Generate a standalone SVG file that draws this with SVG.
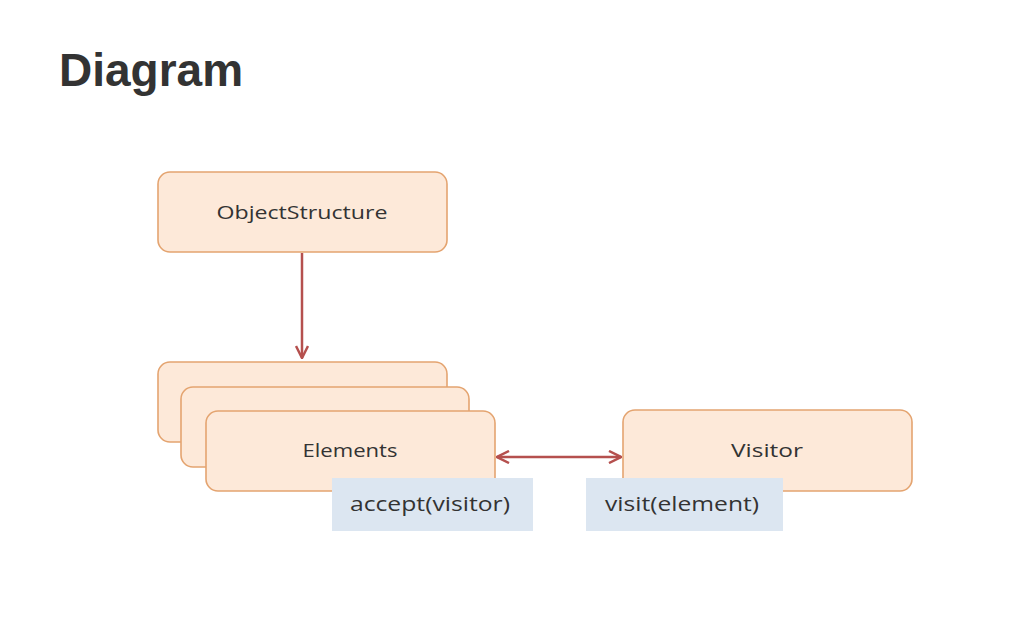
<svg xmlns="http://www.w3.org/2000/svg" width="1026" height="618" viewBox="0 0 1026 618">
<style>
.box{fill:#fde9d9;stroke:#e4a470;stroke-width:1.6}
.lbl{font-family:"Open Sans","Liberation Sans",sans-serif;font-size:18px;fill:#333;text-anchor:middle}
.op{fill:#dce6f1}
.optx{font-family:"Open Sans","Liberation Sans",sans-serif;font-size:20px;fill:#333;text-anchor:middle}
.con{stroke:#b5504e;stroke-width:2.5;fill:none}
</style>
<defs>
<marker id="ah" viewBox="0 0 14 14" refX="13" refY="7" markerWidth="14" markerHeight="14" markerUnits="userSpaceOnUse" orient="auto-start-reverse">
<path d="M1,1 L13,7 L1,13" fill="none" stroke="#b5504e" stroke-width="2.5"/>
</marker>
</defs>
<rect width="1026" height="618" fill="#fff"/>
<text x="59" y="86" font-family="Liberation Sans,Arial,sans-serif" font-size="46" font-weight="bold" fill="#333">Diagram</text>
<g id="connectors">
<line class="con" x1="302" y1="253" x2="302" y2="358" marker-end="url(#ah)"/>
<line class="con" x1="497" y1="457" x2="621" y2="457" marker-start="url(#ah)" marker-end="url(#ah)"/>
</g>
<g id="objectstructure">
<rect class="box" x="158" y="172" width="289" height="80" rx="12"/>
<text class="lbl" x="302" y="219" textLength="171" lengthAdjust="spacingAndGlyphs">ObjectStructure</text>
</g>
<g id="elements">
<rect class="box" x="158" y="362" width="289" height="80" rx="12"/>
<rect class="box" x="181" y="387" width="288" height="80" rx="12"/>
<rect class="box" x="206" y="411" width="289" height="80" rx="12"/>
<text class="lbl" x="350" y="457" textLength="95" lengthAdjust="spacingAndGlyphs">Elements</text>
</g>
<g id="visitor">
<rect class="box" x="623" y="410" width="289" height="81" rx="12"/>
<text class="lbl" x="767" y="457" textLength="72" lengthAdjust="spacingAndGlyphs">Visitor</text>
</g>
<g id="accept">
<rect class="op" x="332" y="478" width="201" height="53"/>
<text class="optx" x="430" y="511" textLength="160" lengthAdjust="spacingAndGlyphs">accept(visitor)</text>
</g>
<g id="visit">
<rect class="op" x="586" y="478" width="197" height="53"/>
<text class="optx" x="682" y="511" textLength="154" lengthAdjust="spacingAndGlyphs">visit(element)</text>
</g>
</svg>
